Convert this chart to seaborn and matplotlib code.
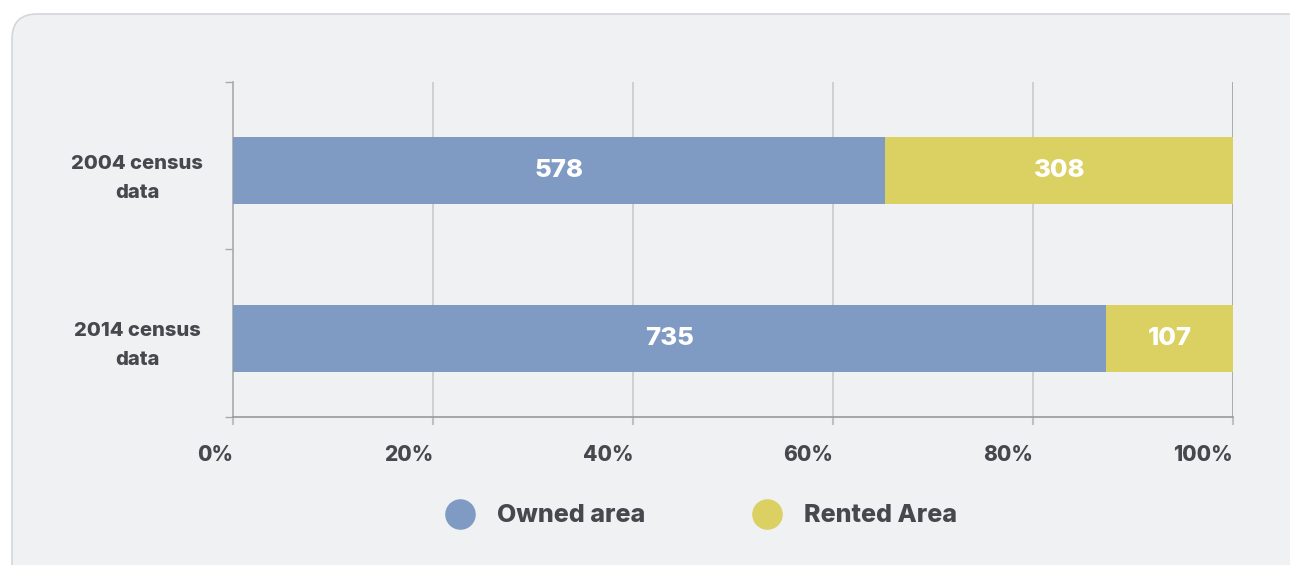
import numpy as np
import pandas as pd
import seaborn as sns
import matplotlib.pyplot as plt
from matplotlib.patches import FancyBboxPatch
from matplotlib.lines import Line2D

# data
categories = ["2004 census\ndata", "2014 census\ndata"]
owned = [578, 735]
rented = [308, 107]
series_names = ["Owned area", "Rented Area"]
x_ticks = [0, 20, 40, 60, 80, 100]

blue = "#7f9bc3"
yellow = "#dbd062"
text_col = "#45494d"
W = 800

sns.set_theme(style="white")
plt.rcParams["font.family"] = ["Inter", "DejaVu Sans"]
plt.rcParams["font.weight"] = W

df = pd.DataFrame({"cat": categories, "owned": owned, "rented": rented})
df["total"] = df["owned"] + df["rented"]
df["owned_pct"] = df["owned"] / df["total"] * 100
df["total_pct"] = df["total"] / df["total"] * 100

fig = plt.figure(figsize=(12.9, 5.65), dpi=100, facecolor="white")

# rounded panel behind the chart
panel = FancyBboxPatch((0.12, -0.6), 13.5, 6.11, boxstyle="round,pad=0,rounding_size=0.25",
                       transform=fig.dpi_scale_trans, facecolor="#f0f1f3",
                       edgecolor="#d3d6da", lw=1.2, zorder=-10)
fig.patches.append(panel)

ax = fig.add_axes([233 / 1290, 1 - 417 / 565, 1000 / 1290, 335 / 565])
ax.set_facecolor("none")

# stacked: full bar in yellow, owned share on top in blue
sns.barplot(data=df, x="total_pct", y="cat", orient="h", width=0.4, color=yellow,
            saturation=1, linewidth=0, ax=ax, zorder=2)
sns.barplot(data=df, x="owned_pct", y="cat", orient="h", width=0.4, color=blue,
            saturation=1, linewidth=0, ax=ax, zorder=3)

for i, row in df.iterrows():
    ax.text(row["owned_pct"] / 2, i, str(row["owned"]), color="white", fontsize=18.5,
            fontweight=W, ha="center", va="center", zorder=4)
    ax.text((row["owned_pct"] + 100) / 2, i, str(row["rented"]), color="white", fontsize=18.5,
            fontweight=W, ha="center", va="center", zorder=4)

ax.set_xlim(0, 100)
ax.set_ylim(1.47, -0.53)
ax.set_xticks(x_ticks)
ax.set_xticklabels([f"{t}%" for t in x_ticks], ha="right")
for t in x_ticks[1:]:
    ax.axvline(t, color="#999999" if t == 100 else "#c6c6c6", lw=1.1, zorder=1)

ax.set_yticks([0, 1])
ax.set_yticklabels(categories, ha="center", linespacing=1.8, fontweight=W)
ax.set_yticks([-0.53, 0.47, 1.47], minor=True)
ax.tick_params(axis="y", which="major", length=0, pad=69, labelsize=14.5, labelcolor=text_col)
ax.tick_params(axis="y", which="minor", length=6, color="#aaaaaa", width=1, left=True)
ax.tick_params(axis="x", length=6, color="#c0c0c0", width=1.5, pad=14.5, labelsize=15,
               labelcolor=text_col, bottom=True)
for lab in ax.get_xticklabels():
    lab.set_fontweight(W)

ax.set_xlabel("")
ax.set_ylabel("")
for s in ["top", "right"]:
    ax.spines[s].set_visible(False)
ax.spines["bottom"].set_color("#999999")
ax.spines["bottom"].set_linewidth(1.2)
ax.spines["left"].set_color("#aaaaaa")
ax.spines["left"].set_linewidth(1.2)

handles = [Line2D([], [], marker="o", ls="", markersize=21, markerfacecolor=c,
                  markeredgecolor=c) for c in [blue, yellow]]
leg = fig.legend(handles, series_names, loc="center", bbox_to_anchor=(696 / 1290, 1 - 516 / 565),
                 ncol=2, frameon=False, handletextpad=0.45, columnspacing=3.9,
                 prop={"size": 18, "weight": W})
for t in leg.get_texts():
    t.set_color(text_col)

fig.savefig("out.png", dpi=100, facecolor="white")
